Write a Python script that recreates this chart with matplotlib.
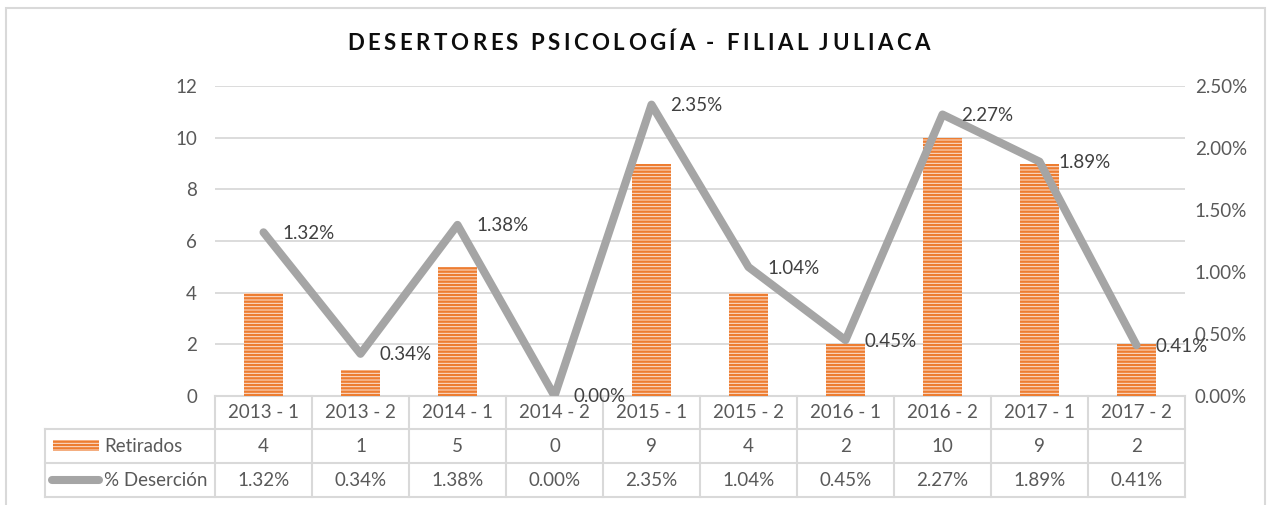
import matplotlib
matplotlib.use("Agg")
import matplotlib.pyplot as plt
import numpy as np
from matplotlib.patches import Rectangle
from matplotlib.ticker import FuncFormatter, MultipleLocator

# ---------------- data ----------------
categories = ["2013 - 1", "2013 - 2", "2014 - 1", "2014 - 2", "2015 - 1",
              "2015 - 2", "2016 - 1", "2016 - 2", "2017 - 1", "2017 - 2"]
retirados = [4, 1, 5, 0, 9, 4, 2, 10, 9, 2]
desercion = [0.0132, 0.0034, 0.0138, 0.0000, 0.0235, 0.0104, 0.0045, 0.0227, 0.0189, 0.0041]
series_names = ["Retirados", "% Deserción"]
title = "DESERTORES PSICOLOGÍA - FILIAL JULIACA"

# ---------------- style ----------------
FONT = ["Lato", "DejaVu Sans"]
plt.rcParams['font.family'] = FONT
plt.rcParams['hatch.color'] = '#ED7D31'
plt.rcParams['hatch.linewidth'] = 1.7

W, H = 1275, 505
fig = plt.figure(figsize=(W / 100, H / 100), dpi=100)
fig.patch.set_facecolor('white')

# overlay in pixel coords (y downward)
ov = fig.add_axes([0, 0, 1, 1])
ov.set_xlim(0, W)
ov.set_ylim(H, 0)
ov.axis('off')
ov.set_zorder(0)

GRID = '#D9D9D9'
TXT = '#595959'
BAR_FACE = '#FCE4D6'
BAR_HATCH = '#ED7D31'

# chart border
ov.plot([6, 6, 1265, 1265], [H + 5, 8, 8, H + 5], color=GRID, lw=1.5, solid_joinstyle='miter')

# plot area geometry (pixels)
PL, PR, PT, PB = 215, 1185, 86, 396
ax = fig.add_axes([PL / W, (H - PB) / H, (PR - PL) / W, (PB - PT) / H])
ax.set_zorder(2)
ax.patch.set_alpha(0)
x = np.arange(len(categories))
ax.bar(x, retirados, width=0.4, facecolor=BAR_FACE, edgecolor=BAR_HATCH, linewidth=0,
       hatch='-----', zorder=2)
ax.set_xlim(-0.5, len(categories) - 0.5)
ax.set_ylim(0, 12)
ax.yaxis.set_major_locator(MultipleLocator(2))
ax.grid(axis='y', color=GRID, lw=1.3, zorder=0)
ax.set_axisbelow(True)
for s in ax.spines.values():
    s.set_visible(False)
ax.set_xticks([])
ax.tick_params(axis='y', length=0, pad=13, labelsize=13.5, labelcolor=TXT)

ax2 = ax.twinx()
ax2.set_zorder(3)
ax2.patch.set_alpha(0)
ax2.plot(x, desercion, color='#A5A5A5', lw=5.8, solid_joinstyle='round',
         solid_capstyle='round', zorder=3)
ax2.set_ylim(0, 0.025)
ax2.yaxis.set_major_locator(MultipleLocator(0.005))
ax2.yaxis.set_major_formatter(FuncFormatter(lambda v, p: f"{v * 100:.2f}%"))
for s in ax2.spines.values():
    s.set_visible(False)
ax2.tick_params(axis='y', length=0, pad=7, labelsize=13.5, labelcolor=TXT)
for xi, v in zip(x, desercion):
    ax2.annotate(f"{v * 100:.2f}%", (xi, v), xytext=(19, -1), textcoords='offset pixels',
                 ha='left', va='center', fontsize=13.5, color='#404040', zorder=5,
                 annotation_clip=False)

# ---------------- data table ----------------
colw = (PR - PL) / len(categories)
rows_y = [396, 429, 463, 497]
LEFT = 45
for yy in rows_y[1:]:
    ov.plot([LEFT, PR], [yy, yy], color=GRID, lw=1.5)
ov.plot([PL, PR], [rows_y[0], rows_y[0]], color=GRID, lw=1.5)
for k in range(len(categories) + 1):
    xx = PL + k * colw
    ov.plot([xx, xx], [rows_y[0], rows_y[3]], color=GRID, lw=1.5)
ov.plot([LEFT, LEFT], [rows_y[1], rows_y[3]], color=GRID, lw=1.5)

for k, cat in enumerate(categories):
    cx = PL + (k + 0.5) * colw
    ov.text(cx, (rows_y[0] + rows_y[1]) / 2, cat, ha='center', va='center',
            fontsize=13.5, color=TXT)
    ov.text(cx, (rows_y[1] + rows_y[2]) / 2, f"{retirados[k]}", ha='center', va='center',
            fontsize=13.5, color=TXT)
    ov.text(cx, (rows_y[2] + rows_y[3]) / 2, f"{desercion[k] * 100:.2f}%", ha='center',
            va='center', fontsize=13.5, color=TXT)

# legend keys
ov.add_patch(Rectangle((53, 440), 46, 11, facecolor=BAR_FACE, edgecolor=BAR_HATCH,
                       linewidth=0, hatch='-----'))
ov.plot([52, 99], [480, 480], color='#A5A5A5', lw=5.8, solid_capstyle='round')
ov.text(104, (rows_y[1] + rows_y[2]) / 2, series_names[0], ha='left', va='center',
        fontsize=13.5, color=TXT)
ov.text(104, (rows_y[2] + rows_y[3]) / 2, series_names[1], ha='left', va='center',
        fontsize=13.5, color=TXT)

# ---------------- title with letter spacing ----------------
renderer = fig.canvas.get_renderer()
t_start, t_end, t_y = 347, 930, 43
chars = list(title)
widths = []
TFS = 16
for ch in chars:
    t = ov.text(0, 0, ch if ch != ' ' else 'i', fontsize=TFS, fontweight='bold')
    bb = t.get_window_extent(renderer)
    widths.append(bb.width * (0.8 if ch == ' ' else 1.0))
    t.remove()
spacing = ((t_end - t_start) - sum(widths)) / (len(chars) - 1)
cx = t_start
for ch, w in zip(chars, widths):
    if ch != ' ':
        ov.text(cx, t_y, ch, fontsize=TFS, fontweight='bold', color='#0D0D0D',
                ha='left', va='center')
    cx += w + spacing

fig.savefig('out.png', dpi=100, facecolor='white')
